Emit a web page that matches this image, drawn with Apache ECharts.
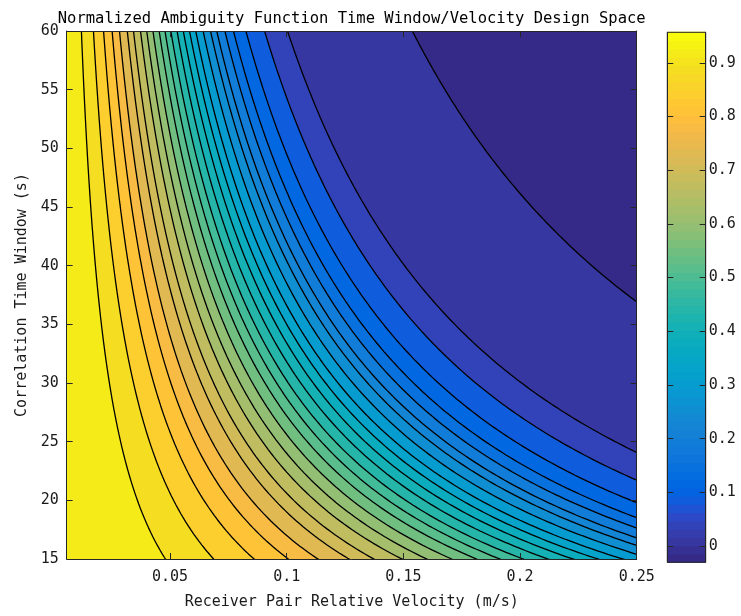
<!DOCTYPE html>
<html><head><meta charset="utf-8">
<script src="https://cdn.jsdelivr.net/npm/echarts@6/dist/echarts.min.js"></script>
<style>html,body{margin:0;padding:0;background:#fff}#c{width:741px;height:616px}</style>
</head><body><div id="c"></div>
<script>
// ---- data ----
// contour levels (ambiguity value), from lowest to highest
const levels = [0.007, 0.043, 0.080, 0.116, 0.153, 0.189, 0.226, 0.262, 0.299, 0.336, 0.372, 0.409, 0.445,
                0.482, 0.518, 0.555, 0.591, 0.628, 0.664, 0.701, 0.738, 0.774, 0.811, 0.847, 0.884, 0.920];
// product velocity*time window (m) along which each contour runs (same order as levels)
const contourVT = [9.23, 6.02, 5.43, 4.95, 4.63, 4.41, 4.20, 4.04, 3.85, 3.66, 3.50, 3.34, 3.18,
                   3.02, 2.87, 2.72, 2.56, 2.40, 2.24, 2.06, 1.90, 1.70, 1.51, 1.29, 1.03, 0.72];
const dataMin = -0.0304, dataMax = 0.957;
const velocityRange = [0.0057, 0.25];
const timeRange = [15, 60];
const xTicks = [0.05, 0.1, 0.15, 0.2, 0.25];
const cbTicks = [0, 0.1, 0.2, 0.3, 0.4, 0.5, 0.6, 0.7, 0.8, 0.9];

// parula colormap (64)
const parula = [[0.2081,0.1663,0.5292],[0.2116,0.1898,0.5777],[0.2123,0.2138,0.6270],[0.2081,0.2386,0.6771],[0.1959,0.2645,0.7279],[0.1707,0.2919,0.7792],[0.1253,0.3242,0.8303],[0.0591,0.3598,0.8683],[0.0117,0.3875,0.8820],[0.0060,0.4086,0.8828],[0.0165,0.4266,0.8786],[0.0329,0.4430,0.8720],[0.0498,0.4586,0.8641],[0.0629,0.4737,0.8554],[0.0723,0.4887,0.8467],[0.0779,0.5040,0.8384],[0.0793,0.5200,0.8312],[0.0749,0.5375,0.8263],[0.0641,0.5570,0.8240],[0.0488,0.5772,0.8228],[0.0343,0.5966,0.8199],[0.0265,0.6137,0.8135],[0.0239,0.6287,0.8038],[0.0231,0.6418,0.7913],[0.0228,0.6535,0.7768],[0.0267,0.6642,0.7607],[0.0384,0.6743,0.7436],[0.0590,0.6838,0.7254],[0.0843,0.6928,0.7062],[0.1133,0.7015,0.6859],[0.1453,0.7098,0.6646],[0.1801,0.7177,0.6424],[0.2178,0.7250,0.6193],[0.2586,0.7317,0.5954],[0.3022,0.7376,0.5712],[0.3482,0.7424,0.5473],[0.3953,0.7459,0.5244],[0.4420,0.7481,0.5033],[0.4871,0.7491,0.4840],[0.5300,0.7491,0.4661],[0.5709,0.7485,0.4494],[0.6099,0.7473,0.4337],[0.6473,0.7456,0.4188],[0.6834,0.7435,0.4044],[0.7184,0.7411,0.3905],[0.7525,0.7384,0.3768],[0.7858,0.7356,0.3633],[0.8185,0.7327,0.3498],[0.8507,0.7299,0.3360],[0.8824,0.7274,0.3217],[0.9139,0.7258,0.3063],[0.9450,0.7261,0.2886],[0.9739,0.7314,0.2666],[0.9938,0.7455,0.2403],[0.9990,0.7653,0.2164],[0.9955,0.7861,0.1967],[0.9880,0.8066,0.1794],[0.9789,0.8271,0.1633],[0.9697,0.8481,0.1475],[0.9626,0.8705,0.1309],[0.9589,0.8949,0.1132],[0.9598,0.9218,0.0948],[0.9661,0.9514,0.0755],[0.9763,0.9831,0.0538]]
  .map(c => 'rgb(' + c.map(x => Math.round(x * 255)).join(',') + ')');

function cmap(val) {
  let i = Math.floor((val - dataMin) / (dataMax - dataMin) * 64);
  return parula[Math.max(0, Math.min(63, i))];
}

const FONT = 'DejaVu Sans Mono';
const TXT = '#1a1a1a';
const AX = '#262626';

// filled bands + contour lines: region beyond each contour (larger v*T) painted with colour of lower band
const series = [];
for (let k = levels.length - 1; k >= 0; k--) {
  const u = contourVT[k];
  const lower = k > 0 ? levels[k - 1] : dataMin;
  const v0 = u / timeRange[1];
  const pts = [];
  const N = 140;
  for (let j = 0; j < N; j++) {
    const v = v0 * Math.pow(velocityRange[1] / v0, j / (N - 1));
    pts.push([v, u / v]);
  }
  series.push({
    type: 'line', xAxisIndex: 0, yAxisIndex: 0, data: pts,
    showSymbol: false, silent: true, animation: false, clip: true,
    lineStyle: { color: '#000', width: 1.3 },
    areaStyle: { color: cmap(lower), opacity: 1, origin: 'end' },
    z: 2
  });
}

// colorbar cells
const cbCells = [];
for (let i = 0; i < 64; i++) {
  const lo = dataMin + (dataMax - dataMin) * i / 64;
  const hi = dataMin + (dataMax - dataMin) * (i + 1) / 64;
  cbCells.push([lo, hi, i]);
}
series.push({
  type: 'custom', xAxisIndex: 2, yAxisIndex: 2, data: cbCells, silent: true, animation: false,
  encode: { x: -1, y: [0, 1] },
  renderItem: (params, api) => {
    const lo = api.value(0), hi = api.value(1), idx = api.value(2);
    const p0 = api.coord([0, lo]);
    const p1 = api.coord([1, hi]);
    return { type: 'rect', shape: { x: p0[0], y: p1[1] - 0.5, width: p1[0] - p0[0], height: p0[1] - p1[1] + 1 },
             style: { fill: parula[idx] } };
  }
});

const lab = { fontFamily: FONT, fontSize: 15, color: TXT };
const grid0 = { left: 66.7, top: 31, width: 570, height: 528 };
const grid1 = { left: 667.3, top: 32.3, width: 38.4, height: 530 };

const option = {
  backgroundColor: '#fff',
  animation: false,
  graphic: [{
    type: 'text', x: 351.7, y: 19, z: 20,
    style: { text: 'Normalized Ambiguity Function Time Window/Velocity Design Space',
             font: '15.5px "DejaVu Sans Mono"', fill: '#000', textAlign: 'center', textVerticalAlign: 'middle' }
  }],
  grid: [
    Object.assign({ show: true, backgroundColor: cmap(levels[levels.length - 1]), borderWidth: 0 }, grid0),
    grid1
  ],
  xAxis: [
    { type: 'value', gridIndex: 0, min: velocityRange[0], max: velocityRange[1], z: 10,
      name: 'Receiver Pair Relative Velocity (m/s)', nameLocation: 'middle', nameGap: 36,
      nameTextStyle: lab,
      axisLine: { onZero: false, lineStyle: { color: AX, width: 1 } },
      axisTick: { inside: true, length: 6, customValues: xTicks, lineStyle: { color: AX } },
      axisLabel: Object.assign({ customValues: xTicks, margin: 11, formatter: v => String(v) }, lab),
      splitLine: { show: false } },
    { type: 'value', gridIndex: 0, position: 'top', min: velocityRange[0], max: velocityRange[1], z: 10,
      axisLine: { onZero: false, lineStyle: { color: AX, width: 1 } },
      axisTick: { inside: true, length: 6, customValues: xTicks, lineStyle: { color: AX } },
      axisLabel: { show: false }, splitLine: { show: false } },
    { type: 'value', gridIndex: 1, min: 0, max: 1, z: 10,
      axisLine: { show: false }, axisTick: { show: false }, axisLabel: { show: false }, splitLine: { show: false } }
  ],
  yAxis: [
    { type: 'value', gridIndex: 0, min: timeRange[0], max: timeRange[1], interval: 5, z: 10,
      name: 'Correlation Time Window (s)', nameLocation: 'middle', nameGap: 37, nameTextStyle: lab,
      axisLine: { onZero: false, lineStyle: { color: AX, width: 1 } },
      axisTick: { inside: true, length: 6, lineStyle: { color: AX } },
      axisLabel: Object.assign({ margin: 8 }, lab),
      splitLine: { show: false } },
    { type: 'value', gridIndex: 0, position: 'right', min: timeRange[0], max: timeRange[1], interval: 5, z: 10,
      axisLine: { onZero: false, lineStyle: { color: AX, width: 1 } },
      axisTick: { inside: true, length: 6, lineStyle: { color: AX } },
      axisLabel: { show: false }, splitLine: { show: false } },
    { type: 'value', gridIndex: 1, position: 'right', min: dataMin, max: dataMax, z: 10,
      axisLine: { onZero: false, lineStyle: { color: AX, width: 1 } },
      axisTick: { inside: true, length: 6, customValues: cbTicks, lineStyle: { color: AX } },
      axisLabel: Object.assign({ customValues: cbTicks, margin: 3, formatter: v => String(+v.toFixed(1)) }, lab),
      splitLine: { show: false } },
    { type: 'value', gridIndex: 1, position: 'left', min: dataMin, max: dataMax, z: 10,
      axisLine: { onZero: false, lineStyle: { color: AX, width: 1 } },
      axisTick: { inside: true, length: 6, customValues: cbTicks, lineStyle: { color: AX } },
      axisLabel: { show: false }, splitLine: { show: false } }
  ],
  series: series
};
// colorbar top/bottom border
option.graphic.push({
  type: 'rect', z: 20, silent: true,
  shape: { x: grid1.left, y: grid1.top, width: grid1.width, height: grid1.height },
  style: { fill: 'none', stroke: AX, lineWidth: 1 }
});
const chart = echarts.init(document.getElementById('c'), null, { renderer: 'canvas' });
chart.setOption(option);
</script></body></html>
